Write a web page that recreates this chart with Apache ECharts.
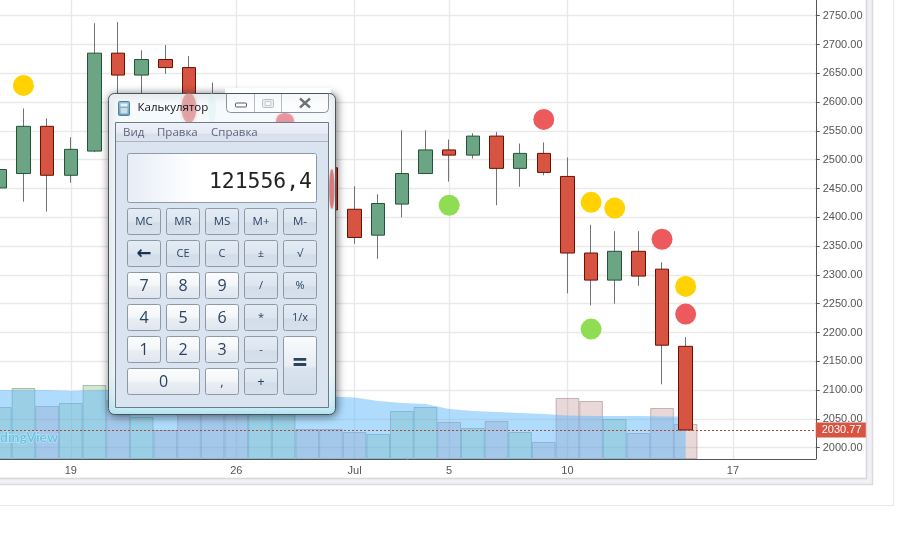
<!DOCTYPE html>
<html>
<head>
<meta charset="utf-8">
<style>html,body{margin:0;padding:0;background:#fff}#c{width:905px;height:547px}</style>
<script src="https://cdn.jsdelivr.net/npm/echarts@6/dist/echarts.min.js"></script>
</head>
<body>
<div id="c"></div>
<script>
var categories = ['06-16','06-17','06-18','06-19','06-20','06-21','06-22','06-23','06-24','06-25','06-26','06-27','06-28','06-29','06-30',
  '07-01','07-02','07-03','07-04','07-05','07-06','07-07','07-08','07-09','07-10','07-11','07-12','07-13','07-14','07-15',
  '07-16','07-17','07-18','07-19','07-20'];
var opens  = [2451,2476,2558,2473,2515,2685,2647,2674,2660,2565,2520,2460,2540,2560,2486,2414,2369,2423,2476,2517,2508,2541,2485,2511,2471,2338,2291,2341,2310,2176];
var closes = [2483,2558,2473,2518,2685,2647,2674,2660,2565,2520,2460,2540,2560,2486,2413,2365,2424,2476,2517,2508,2541,2485,2511,2478,2338,2291,2341,2298,2178,2030.77];
var lows   = [2373,2427,2410,2460,2513,2604,2609,2649,2552,2440,2400,2400,2510,2460,2400,2354,2328,2400,2476,2462,2502,2421,2453,2473,2268,2247,2250,2281,2110,2030.77];
var highs  = [2501,2589,2572,2539,2737,2739,2690,2699,2680,2634,2550,2560,2590,2580,2500,2454,2440,2551,2551,2535,2546,2548,2528,2530,2504,2387,2376,2376,2322,2192];
var volumes = [52,71,53,56,74,59,42,29,50,48,50,46,52,30,30,27,25,48,52,37,31,38,27,17,61,58,40,26,51,35];
var volumeAverage = [69,69,69,68,69,69,69,68,68,67,67,66,66,65,62.5,61.5,58,56,55,50,48,47,46,45,43.5,43,43,43,42.5,42.5];
var yellowDots = [['06-17',2629],['07-11',2426],['07-12',2416],['07-15',2280]];
var redDots = [['06-28',2564],['07-09',2570],['07-14',2362],['07-15',2232]];
var greenDots = [['07-05',2421],['07-11',2206]];
var xTickLabels = {'06-19':'19','06-26':'26','07-01':'Jul','07-05':'5','07-10':'10','07-17':'17'};
var yTicks = [2000,2050,2100,2150,2200,2250,2300,2350,2400,2450,2500,2550,2600,2650,2700,2750];
var lastPrice = 2030.77;

var UP='#6ba583', DOWN='#d75442', UPB='#225437', DOWNB='#6b1100', WICK='#737375', GRIDC='#e9e9e9', AXIS='#555555';
function isTick(i,v){return Object.prototype.hasOwnProperty.call(xTickLabels,v);}

/* ---------- page frame + calculator window (overlay drawn with graphic) ---------- */
var g=[];
function grad(stops,h){return {type:'linear',x:0,y:0,x2:h?1:0,y2:h?0:1,colorStops:stops.map(function(s){return{offset:s[0],color:s[1]};})};}
function R(x,y,w,h,fill,stroke,r,extra){var s={fill:fill,stroke:stroke||null,lineWidth:stroke?1:0};if(extra)for(var k in extra)s[k]=extra[k];
  g.push({type:'rect',silent:true,z:100,shape:{x:x,y:y,width:w,height:h,r:r||0},style:s});}
function T(x,y,t,size,color,align,font,weight){g.push({type:'text',silent:true,z:100,x:x,y:y,style:{text:t,fontSize:size,fill:color,align:align||'center',verticalAlign:'middle',fontFamily:font||'"Open Sans"',fontWeight:weight||'normal'}});}
function L(x1,y1,x2,y2,c,w){g.push({type:'line',silent:true,z:100,shape:{x1:x1,y1:y1,x2:x2,y2:y2},style:{stroke:c,lineWidth:w||1}});}
function E(cx,cy,rx,ry,fill,blur){g.push({type:'ellipse',silent:true,z:100,shape:{cx:cx,cy:cy,rx:rx,ry:ry},style:{fill:fill,shadowBlur:blur||0,shadowColor:fill}});}

/* outer panel frame */
R(866.5,-4,6,485,'#f0f1f6');R(-4,478.5,877,6,'#f0f1f6');
L(866.5,-2,866.5,479,'#d8d8d8',1.5);L(-2,478.5,867,478.5,'#d8d8d8',1.5);
L(872.5,-2,872.5,485,'#dcdcdc',1.5);L(-2,484.5,873,484.5,'#dcdcdc',1.5);
L(893.5,-2,893.5,505.5,'#e6e6e6',1);L(-2,505.5,894,505.5,'#e6e6e6',1);

/* watermark */
g.push({type:'text',silent:true,z:100,x:0,y:437.5,style:{text:'dingView',fontSize:14,fontFamily:'Lato',fontWeight:'bold',fill:'#6fc2e6',stroke:'#c8ecfa',lineWidth:1,align:'left',verticalAlign:'middle'}});

/* window */
R(108.5,93.5,227,321,grad([[0,'#f6fafc'],[0.87,'#f3fbfd'],[0.95,'#d9f5fd'],[1,'#bdeefc']]),'#48555c',6,{shadowBlur:9,shadowColor:'rgba(0,0,0,0.55)',shadowOffsetX:1,shadowOffsetY:1});
/* chart showing through the glass */
E(189,108,7.5,15,'rgba(214,120,120,0.55)',4);
E(285,121,9,8,'rgba(230,130,140,0.7)',3);
E(212,108,4,15,'rgba(205,240,240,0.3)',3);
E(331.8,189,2.6,20,'rgba(205,110,110,0.75)',2);
/* title */
T(137.5,108,'Калькулятор',11.5,'#111111','left');
R(118.5,101.5,11,14,grad([[0,'#8fc4dc'],[1,'#5f9fc4']]),'#5a7f96',1);
R(120.5,103.5,7,3,'#e9f2f6');
R(120.5,108,7,5.5,'#cfdde6');
R(226.5,90,102,22.5,'rgba(255,255,255,0.55)','#8a939c',4);
R(225,88,106,5,'#ffffff');
L(226.5,93.5,328.5,93.5,'#48555c',1);
L(254.5,94,254.5,112,'#b5bcc2',1);L(281.5,94,281.5,112,'#b5bcc2',1);
R(235.5,103,11,4,'#ffffff','#535a60',1);
R(262.5,99.5,11,8,'#eef1f3','#b8bec4',1);R(265,101.5,6,4,'#f6f7f8','#c6cbd0');
L(300,98.5,310,107.5,'#ffffff',4.5);L(310,98.5,300,107.5,'#ffffff',4.5);
L(300,98.5,310,107.5,'#6d7479',2.4);L(310,98.5,300,107.5,'#6d7479',2.4);
/* client */
R(115.5,122.5,213,285,'#dae4f0','#6d7986');
R(116,123,212,18.5,grad([[0,'#eef1f8'],[0.55,'#e6eaf4'],[0.6,'#d8deec'],[1,'#dde3ef']]));
L(116,141.5,328,141.5,'#aab4c2',1);
T(123,133,'Вид',11.5,'#5b6679','left');
T(157,133,'Правка',11.5,'#5b6679','left');
T(211,133,'Справка',11.5,'#5b6679','left');
/* display */
R(127.5,153.5,189,49,grad([[0,'#e6edf6'],[0.35,'#ffffff'],[1,'#ffffff']],true),'#8e9aa8',2);
T(312,182,'121556,4',21.4,'#222222','right','"DejaVu Sans Mono"');
/* keys */
var colX=[127.5,166.5,205.5,244.5,283.5], rowY=[208.5,240.5,272.5,304.5,336.5,368.5], keyW=33, keyH=26;
var WHITE=grad([[0,'#fcfdfe'],[0.5,'#f3f6f9'],[0.55,'#e9eef3'],[1,'#dfe6ef']]);
var BLUE=grad([[0,'#e4ecf5'],[0.5,'#dde6f0'],[0.55,'#d1dde9'],[1,'#d6e1ed']]);
var keys=[
 ['MC',0,0,1,1,BLUE,11.5],['MR',1,0,1,1,BLUE,11.5],['MS',2,0,1,1,BLUE,11.5],['M+',3,0,1,1,BLUE,11.5],['M-',4,0,1,1,BLUE,11.5],
 ['←',0,1,1,1,BLUE,18],['CE',1,1,1,1,BLUE,11],['C',2,1,1,1,BLUE,11],['±',3,1,1,1,BLUE,11],['√',4,1,1,1,BLUE,11],
 ['7',0,2,1,1,WHITE,16],['8',1,2,1,1,WHITE,16],['9',2,2,1,1,WHITE,16],['/',3,2,1,1,BLUE,11],['%',4,2,1,1,BLUE,11],
 ['4',0,3,1,1,WHITE,16],['5',1,3,1,1,WHITE,16],['6',2,3,1,1,WHITE,16],['*',3,3,1,1,BLUE,11],['1/x',4,3,1,1,BLUE,11],
 ['1',0,4,1,1,WHITE,16],['2',1,4,1,1,WHITE,16],['3',2,4,1,1,WHITE,16],['-',3,4,1,1,BLUE,11],['=',4,4,1,2,grad([[0,'#fafbfd'],[0.5,'#e8eef4'],[0.55,'#d9e3ee'],[1,'#d0dce9']]),26],
 ['0',0,5,2,1,WHITE,16],[',',2,5,1,1,WHITE,13],['+',3,5,1,1,BLUE,13]
];
keys.forEach(function(k){
  var x=colX[k[1]],y=rowY[k[2]],w=keyW+(k[3]-1)*39,h=keyH+(k[4]-1)*32;
  R(x,y,w,h,k[5],'#8d99a6',2);
  T(x+w/2,y+h/2+(k[0]==='='?-1:0.5),k[0],k[6],k[0]==='←'?'#1c3150':'#2b4261','center',k[0]==='←'?'"DejaVu Sans"':'"Open Sans"',(k[0]==='←'||k[0]==='=')?'bold':'normal');
});

/* ---------- chart ---------- */
var volumeData = volumes.map(function(v,i){
  var up=closes[i]>=opens[i];
  return {value:v,itemStyle:{color:up?'rgba(90,160,70,0.25)':'rgba(160,90,90,0.24)',borderColor:up?'rgba(90,140,120,0.5)':'rgba(130,90,100,0.4)',borderWidth:1}};
});
function dotSeries(name,data,color){return {name:name,type:'scatter',xAxisIndex:0,yAxisIndex:0,data:data,symbol:'circle',symbolSize:21,z:6,itemStyle:{color:color,opacity:1},silent:true,animation:false};}

var chart=echarts.init(document.getElementById('c'),null,{renderer:'canvas'});
chart.setOption({
  animation:false,
  backgroundColor:'#ffffff',
  grid:{left:-12,top:0,width:827.75,height:459,containLabel:false,outerBoundsMode:'none'},
  xAxis:{type:'category',data:categories,boundaryGap:true,
    axisLine:{lineStyle:{color:AXIS,width:1}},
    axisTick:{alignWithLabel:true,length:4,interval:isTick,lineStyle:{color:AXIS}},
    axisLabel:{interval:isTick,color:AXIS,fontSize:11,fontFamily:'"Liberation Sans"',margin:6,formatter:function(v){return xTickLabels[v]||'';}},
    splitLine:{show:true,alignWithLabel:true,interval:isTick,lineStyle:{color:GRIDC,width:1.4}}
  },
  yAxis:[
    {type:'value',position:'right',min:1980.4,max:2777.3,scale:true,
      axisLine:{show:true,lineStyle:{color:AXIS,width:1}},
      axisTick:{show:true,length:4,customValues:yTicks,lineStyle:{color:AXIS}},
      axisLabel:{customValues:yTicks,color:AXIS,fontSize:11,fontFamily:'"Liberation Sans"',margin:7,formatter:function(v){return v.toFixed(2);}},
      splitLine:{show:true,lineStyle:{color:GRIDC,width:1.4}}
    },
    {type:'value',min:0,max:459,show:false,splitLine:{show:false}}
  ],
  series:[
    {name:'Volume',type:'bar',xAxisIndex:0,yAxisIndex:1,data:volumeData,barWidth:'100%',z:1,silent:true},
    {name:'Volume average',type:'line',xAxisIndex:0,yAxisIndex:1,data:volumeAverage,symbol:'none',lineStyle:{width:0},areaStyle:{color:'rgba(96,184,252,0.5)',opacity:1},z:2,silent:true},
    {name:'Wicks',type:'candlestick',xAxisIndex:0,yAxisIndex:0,barWidth:1,z:3,silent:true,
      data:opens.map(function(o,i){return [o,closes[i],lows[i],highs[i]];}),
      itemStyle:{color:WICK,color0:WICK,borderColor:WICK,borderColor0:WICK,borderWidth:1}},
    {name:'Price',type:'candlestick',xAxisIndex:0,yAxisIndex:0,barWidth:14,z:4,silent:true,
      data:opens.map(function(o,i){return [o,closes[i],Math.min(o,closes[i]),Math.max(o,closes[i])];}),
      itemStyle:{color:UP,color0:DOWN,borderColor:UPB,borderColor0:DOWNB,borderWidth:1},
      markLine:{silent:true,symbol:'none',animation:false,z:7,
        data:[{yAxis:lastPrice}],
        lineStyle:{color:'#a84a3c',type:[2,2],width:1},
        label:{show:true,position:'end',distance:0,formatter:function(){return lastPrice.toFixed(2);},color:'#ffffff',backgroundColor:DOWN,fontSize:11,fontFamily:'"Liberation Sans"',padding:[2,5,2,6]}}},
    dotSeries('Yellow signals',yellowDots,'#ffd200'),
    dotSeries('Red signals',redDots,'#ec5a5e'),
    dotSeries('Green signals',greenDots,'#8edd52')
  ],
  graphic:{elements:g}
});
</script>
</body>
</html>
